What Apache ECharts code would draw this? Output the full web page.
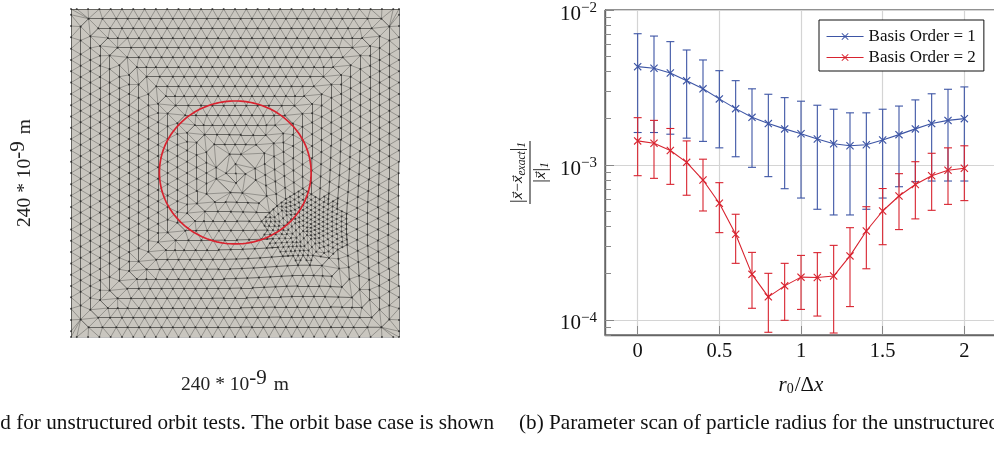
<!DOCTYPE html>
<html><head><meta charset="utf-8">
<style>html,body{margin:0;padding:0;background:#fff;overflow:hidden}#c{width:994px;height:463px}</style>
<script src="https://cdn.jsdelivr.net/npm/echarts@6/dist/echarts.min.js"></script>
</head><body><div id="c"></div>
<script>
const seriesNames = ['Basis Order = 1', 'Basis Order = 2'];
const radii = [0,0.1,0.2,0.3,0.4,0.5,0.6,0.7,0.8,0.9,1,1.1,1.2,1.3,1.4,1.5,1.6,1.7,1.8,1.9,2];
const blueMean = [4.31e-3,4.21e-3,3.92e-3,3.50e-3,3.10e-3,2.67e-3,2.31e-3,2.03e-3,1.85e-3,1.71e-3,1.59e-3,1.47e-3,1.37e-3,1.33e-3,1.35e-3,1.45e-3,1.57e-3,1.71e-3,1.85e-3,1.94e-3,1.99e-3];
const blueHigh = [7.03e-3,6.79e-3,6.25e-3,5.52e-3,4.76e-3,4.06e-3,3.50e-3,3.10e-3,2.86e-3,2.72e-3,2.58e-3,2.43e-3,2.29e-3,2.17e-3,2.17e-3,2.29e-3,2.40e-3,2.63e-3,2.88e-3,3.08e-3,3.19e-3];
const blueLow = [1.62e-3,1.62e-3,1.58e-3,1.49e-3,1.42e-3,1.29e-3,1.13e-3,9.66e-4,8.41e-4,7.03e-4,6.12e-4,5.18e-4,4.76e-4,4.76e-4,5.18e-4,6.12e-4,7.24e-4,7.80e-4,7.88e-4,7.88e-4,7.88e-4];
const redMean = [1.43e-3,1.38e-3,1.24e-3,1.04e-3,8.0e-4,5.66e-4,3.57e-4,1.97e-4,1.41e-4,1.66e-4,1.89e-4,1.88e-4,1.92e-4,2.59e-4,3.75e-4,5.05e-4,6.31e-4,7.48e-4,8.53e-4,9.24e-4,9.52e-4];
const redHigh = [2.02e-3,1.94e-3,1.72e-3,1.43e-3,1.09e-3,7.69e-4,4.81e-4,2.73e-4,2.0e-4,2.32e-4,2.61e-4,2.72e-4,3.03e-4,3.94e-4,5.38e-4,7.05e-4,8.79e-4,1.05e-3,1.19e-3,1.29e-3,1.33e-3];
const redLow = [8.53e-4,8.2e-4,7.5e-4,6.38e-4,5.05e-4,3.66e-4,2.32e-4,1.19e-4,8.33e-5,9.95e-5,1.17e-4,1.06e-4,8.24e-5,1.22e-4,2.14e-4,3.06e-4,3.83e-4,4.49e-4,5.1e-4,5.57e-4,5.89e-4];
const xTicks = [0,0.5,1,1.5,2];
const yTicks = [1e-4,1e-3,1e-2];
const yMinorTicks = [8e-5,9e-5,2e-4,3e-4,4e-4,5e-4,6e-4,7e-4,8e-4,9e-4,2e-3,3e-3,4e-3,5e-3,6e-3,7e-3,8e-3,9e-3];

// Left panel: mesh description, in nanometres on a 240 x 240 domain
const domain = 240, edgeLen = 8.27, rowStep = 7.07, ringCount = 17;
const orbitCentre = [120.2, 120.4], orbitRadii = [55.5, 52.3];
const refineZone = {c:[172,80], r:[34,28]};
const warpCentre = [172,82], warpRadius = 46, warpAmount = 0.2;

function buildMesh(){
  const nodes = [], tris = [], rings = [];
  const add = (x,y)=>{nodes.push([x,y]);return nodes.length-1;};
  const c = domain/2;
  for(let k=0;k<ringCount;k++){
    const h = c-k*rowStep, off=(k%2)/2, lim=h-0.2*edgeLen, ts=[];
    for(let i=-20;i<=20;i++){const t=(i+off)*edgeLen; if(Math.abs(t)<lim) ts.push(t);}
    // ease the row ends so that every ring has the same small chamfer at its corners
    if(k>0&&ts.length>=4){
      const end=h-0.7*edgeLen, n=ts.length, delta=end-ts[n-1];
      ts[n-1]+=delta; ts[n-2]+=delta/2; ts[0]-=delta; ts[1]-=delta/2;
    }
    const ring=[];
    const corner=(x,y)=>{ if(k===0) ring.push(add(x,y)); };
    corner(c-h,c+h);
    ts.forEach(t=>ring.push(add(c+t,c+h)));
    corner(c+h,c+h);
    ts.slice().reverse().forEach(t=>ring.push(add(c+h,c+t)));
    corner(c+h,c-h);
    ts.slice().reverse().forEach(t=>ring.push(add(c+t,c-h)));
    corner(c-h,c-h);
    ts.forEach(t=>ring.push(add(c-h,c+t)));
    rings.push(ring);
  }
  const d=(a,b)=>Math.hypot(nodes[a][0]-nodes[b][0],nodes[a][1]-nodes[b][1]);
  const ringEdges=new Set();
  const key=(a,b)=>a<b?a+'_'+b:b+'_'+a;
  rings.forEach(r=>r.forEach((n,i)=>ringEdges.add(key(n,r[(i+1)%r.length]))));
  for(let k=0;k<rings.length-1;k++){
    const O=rings[k], I=rings[k+1]; let i=0,j=0;
    while(i<O.length||j<I.length){
      const oa=O[i%O.length], ob=O[(i+1)%O.length], ia=I[j%I.length], ib=I[(j+1)%I.length];
      if(j>=I.length||(i<O.length&&d(ob,ia)<=d(oa,ib))){tris.push([oa,ob,ia]);i++;}
      else{tris.push([oa,ia,ib]);j++;}
    }
  }
  const hub=add(c,c), last=rings[rings.length-1];
  last.forEach((n,i)=>tris.push([n,last[(i+1)%last.length],hub]));
  const inside=(p,e)=>Math.hypot((p[0]-e.c[0])/e.r[0],(p[1]-e.c[1])/e.r[1])<1;
  const midCache=new Map();
  const mid=(a,b)=>{const kk=key(a,b);if(!midCache.has(kk)){midCache.set(kk,add((nodes[a][0]+nodes[b][0])/2,(nodes[a][1]+nodes[b][1])/2));}return midCache.get(kk);};
  const fine=[];
  tris.forEach(t=>{
    const g=[0,1].map(q=>(nodes[t[0]][q]+nodes[t[1]][q]+nodes[t[2]][q])/3);
    if(!inside(g,refineZone)){fine.push(t);return;}
    const ab=mid(t[0],t[1]),bc=mid(t[1],t[2]),ca=mid(t[2],t[0]);
    fine.push([t[0],ab,ca],[ab,t[1],bc],[ca,bc,t[2]],[ab,bc,ca]);
  });
  const warped=nodes.map(p=>{
    const dx=p[0]-warpCentre[0],dy=p[1]-warpCentre[1],rr=(dx*dx+dy*dy)/(warpRadius*warpRadius);
    const f=1-warpAmount*Math.exp(-rr*1.5);
    return [warpCentre[0]+dx*f,warpCentre[1]+dy*f];
  });
  const seen=new Set(), strong=[], weak=[];
  fine.forEach(t=>[[t[0],t[1]],[t[1],t[2]],[t[2],t[0]]].forEach(([a,b])=>{
    const kk=key(a,b); if(seen.has(kk))return; seen.add(kk);
    (ringEdges.has(kk)?strong:weak).push({coords:[warped[a],warped[b]]});
  }));
  return {nodes:warped,strong,weak};
}
const mesh=buildMesh();
const orbitCurve=[];
for(let a=0;a<=360;a+=2){const t=a*Math.PI/180;orbitCurve.push([orbitCentre[0]+orbitRadii[0]*Math.cos(t),orbitCentre[1]+orbitRadii[1]*Math.sin(t)]);}

const serif='"Liberation Serif","DejaVu Serif",serif';
const blue='#3d55a5', red='#d8232f';
const cross='path://M1 0L5 4L9 0L10 1L6 5L10 9L9 10L5 6L1 10L0 9L4 5L0 1Z';

function errorSeries(name,color,low,high){
  return {
    type:'custom',name,xAxisIndex:1,yAxisIndex:1,z:3,silent:true,clip:false,
    data:radii.map((x,i)=>[x,low[i],high[i]]),
    encode:{x:0,y:[1,2]},
    renderItem(params,api){
      const top=api.coord([api.value(0),api.value(2)]), bot=api.coord([api.value(0),api.value(1)]), w=4;
      const st={stroke:color,lineWidth:1.1,fill:null};
      return {type:'group',children:[
        {type:'line',shape:{x1:top[0],y1:top[1],x2:bot[0],y2:bot[1]},style:st},
        {type:'line',shape:{x1:top[0]-w,y1:top[1],x2:top[0]+w,y2:top[1]},style:st},
        {type:'line',shape:{x1:bot[0]-w,y1:bot[1],x2:bot[0]+w,y2:bot[1]},style:st}
      ]};
    }
  };
}
function meanSeries(name,color,vals){
  return {type:'line',name,xAxisIndex:1,yAxisIndex:1,z:4,data:radii.map((x,i)=>[x,vals[i]]),
    symbol:cross,symbolSize:8,showSymbol:true,itemStyle:{color},lineStyle:{color,width:1.1},silent:true};
}
const dimName='{a|240 * 10}{b|-9}{a| m}';
const dimRich={a:{fontFamily:serif,fontSize:19.5,color:'#222'},b:{fontFamily:serif,fontSize:21,color:'#222',padding:[0,2,13,0]}};
const hidden={axisLine:{show:false},axisTick:{show:false},axisLabel:{show:false},splitLine:{show:false}};

const chart=echarts.init(document.getElementById('c'),null,{renderer:'canvas'});
chart.setOption({
  animation:false,backgroundColor:'#fff',
  grid:[
    {left:71,top:9,width:328,height:328,show:true,backgroundColor:'#c9c6bf',borderWidth:0,outerBoundsMode:'none'},
    {left:605,top:10,width:392,height:325,show:true,backgroundColor:'#fff',borderColor:'#222',borderWidth:1,outerBoundsMode:'none'}
  ],
  xAxis:[
    {type:'value',gridIndex:0,min:0,max:domain,...hidden,name:dimName,nameLocation:'middle',nameGap:31,nameTextStyle:{rich:dimRich}},
    {type:'value',gridIndex:1,min:-0.2,max:2.2,
      axisLine:{show:true,onZero:false,lineStyle:{color:'#666',width:1.4}},
      axisTick:{show:true,inside:true,length:9,customValues:xTicks,lineStyle:{color:'#888'}},
      axisLabel:{customValues:xTicks,fontFamily:serif,fontSize:20.5,color:'#111',margin:6},
      splitLine:{show:true,lineStyle:{color:'#d4d4d4',width:1.2}},
      name:'{i|r}{s|0}{n|/Δ}{i|x}',nameLocation:'middle',nameGap:40,
      nameTextStyle:{rich:{i:{fontFamily:serif,fontStyle:'italic',fontSize:21,color:'#111'},n:{fontFamily:serif,fontSize:21,color:'#111'},s:{fontFamily:serif,fontSize:14,color:'#111',padding:[7,1,0,0]}}}
    }
  ],
  yAxis:[
    {type:'value',gridIndex:0,min:0,max:domain,...hidden,name:dimName,nameLocation:'middle',nameGap:29,nameTextStyle:{rich:dimRich}},
    {type:'log',gridIndex:1,logBase:10,position:'left',min:8e-5,max:1e-2,
      axisLine:{show:true,onZero:false,lineStyle:{color:'#666',width:1.4}},
      axisTick:{show:true,inside:true,length:9,customValues:yTicks,lineStyle:{color:'#888'}},
      axisLabel:{customValues:yTicks,margin:8,padding:[8,0,0,0],formatter:v=>'{b|10}{e|−'+Math.round(-Math.log10(v))+'}',
        rich:{b:{fontFamily:serif,fontSize:21,color:'#111'},e:{fontFamily:serif,fontSize:15,color:'#111',padding:[0,0,11,0]}}},
      splitLine:{show:true,lineStyle:{color:'#d4d4d4',width:1.2}},
      name:'{n||}{v|x⃗}{o|−}{v|x⃗}{e|exact}{n||}{e|1}\n{bar|}\n{n||}{v|x⃗}{n||}{e|1}',nameLocation:'middle',nameGap:53.5,
      nameTextStyle:{align:'center',rich:{
        n:{fontFamily:serif,fontSize:18,color:'#111',lineHeight:20},
        o:{fontFamily:serif,fontSize:15,color:'#111',lineHeight:20},
        v:{fontFamily:'"DejaVu Sans"',fontStyle:'oblique',fontSize:13,color:'#111',lineHeight:20},
        e:{fontFamily:serif,fontStyle:'italic',fontSize:11.5,color:'#111',padding:[6,0,0,0]},
        bar:{width:63,height:1,lineHeight:3,backgroundColor:'#111'}}}
    },
    {type:'log',gridIndex:1,logBase:10,position:'left',min:8e-5,max:1e-2,axisLine:{show:false,onZero:false},splitLine:{show:false},axisLabel:{show:false},
      axisTick:{show:true,inside:true,length:6,customValues:yMinorTicks,lineStyle:{color:'#888'}}}
  ],
  legend:{data:seriesNames,orient:'vertical',left:819,top:20,padding:[8,8,5,7],itemWidth:37,itemHeight:9,itemGap:4,
    backgroundColor:'#fff',borderColor:'#111',borderWidth:1,selectedMode:false,lineStyle:{width:1.1},
    textStyle:{fontFamily:serif,fontSize:17,color:'#111'}},
  graphic:[
    {type:'text',x:494,y:423,style:{text:'d for unstructured orbit tests. The orbit base case is shown',align:'right',verticalAlign:'middle',font:'21.2px '+serif,fill:'#111'}},
    {type:'text',x:519,y:423,style:{text:'(b) Parameter scan of particle radius for the unstructured orbit case',align:'left',verticalAlign:'middle',font:'21.2px '+serif,fill:'#111'}}
  ],
  series:[
    {type:'lines',name:'mesh edges',coordinateSystem:'cartesian2d',xAxisIndex:0,yAxisIndex:0,polyline:false,silent:true,z:1,data:mesh.weak,lineStyle:{color:'#3a3a38',opacity:0.5,width:0.75}},
    {type:'lines',name:'mesh rows',coordinateSystem:'cartesian2d',xAxisIndex:0,yAxisIndex:0,polyline:false,silent:true,z:1,data:mesh.strong,lineStyle:{color:'#262624',opacity:0.72,width:0.85}},
    {type:'scatter',name:'mesh nodes',xAxisIndex:0,yAxisIndex:0,silent:true,z:2,data:mesh.nodes,symbol:'circle',symbolSize:2,itemStyle:{color:'#222',opacity:0.75}},
    {type:'line',name:'orbit',xAxisIndex:0,yAxisIndex:0,silent:true,z:3,data:orbitCurve,showSymbol:false,symbol:'none',lineStyle:{color:'#d8232f',width:1.7}},
    errorSeries('order 1 spread',blue,blueLow,blueHigh),
    meanSeries(seriesNames[0],blue,blueMean),
    errorSeries('order 2 spread',red,redLow,redHigh),
    meanSeries(seriesNames[1],red,redMean)
  ]
});
</script></body></html>
